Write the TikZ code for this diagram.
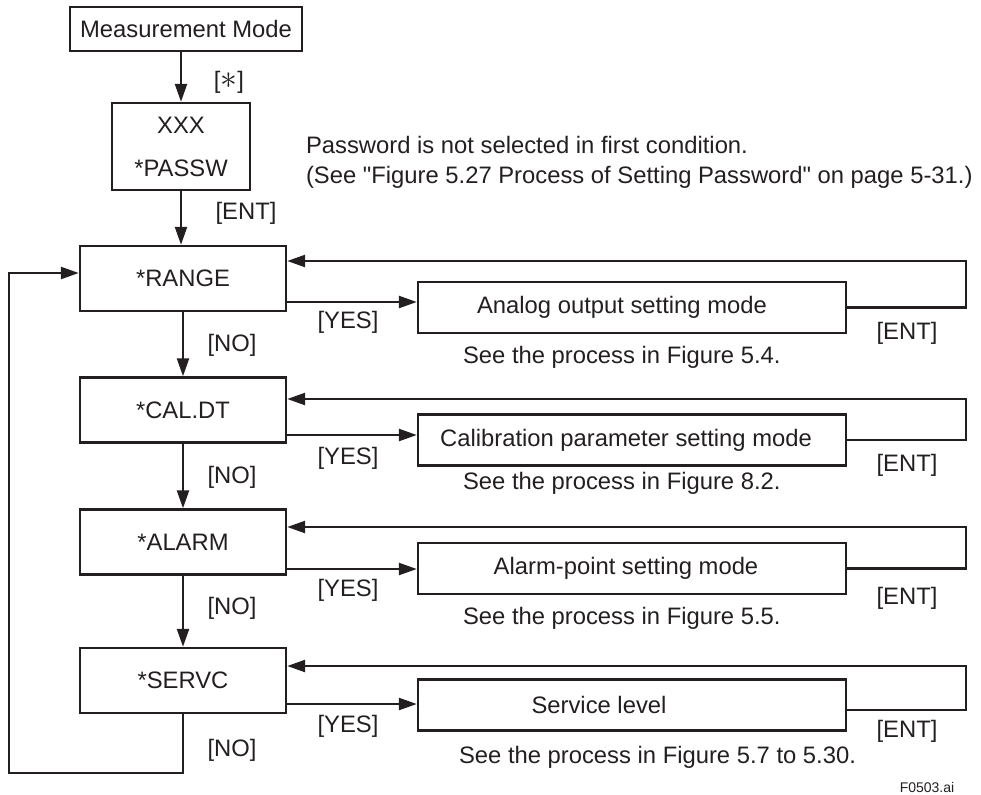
\documentclass[tikz,border=0pt]{standalone}
\usepackage{fontspec}
\setmainfont{Liberation Sans}
\usetikzlibrary{arrows.meta, positioning, calc}
\definecolor{ink}{HTML}{231F20}

\begin{document}
\begin{tikzpicture}[x=0.5pt, y=-0.5pt, font={\fontsize{11.9}{15}\selectfont}, text=ink,
  mainbox/.style={draw=ink, line width=1.2pt, minimum width=103pt, minimum height=32.5pt},
  subbox/.style={draw=ink, line width=1.2pt, minimum width=214pt, minimum height=25.5pt},
  arrow/.style={draw=ink, line width=1.2pt, -{Triangle[length=9pt, width=6pt]}},
  wire/.style={draw=ink, line width=1.2pt}]

\useasboundingbox (0,0) rectangle (981,794);

\node[draw=ink, line width=1.2pt, minimum width=116pt, minimum height=22pt] (meas) at (186,29) {Measurement Mode};
\node[draw=ink, line width=1.2pt, minimum width=69pt, minimum height=43.5pt, align=center] (passw) at (181,146.5) {XXX\\[6.5pt]*PASSW};
\node[anchor=west, align=left] (note) at (299,162) {Password is not selected in first condition.\\(See \textquotedbl Figure 5.27 Process of Setting Password\textquotedbl\ on page 5-31.)};

\node[mainbox] (range) at (183,278.5) {*RANGE};
\node[mainbox] (caldt) at (183,410) {*CAL.DT};
\node[mainbox] (alarm) at (183,542) {*ALARM};
\node[mainbox] (servc) at (183,680.5) {*SERVC};

\node[subbox] (analog) at (632,307.5) {Analog output setting mode\kern10pt};
\node[subbox] (calib) at (632,440) {Calibration parameter setting mode\kern6pt};
\node[subbox] (alarmpt) at (632,568.5) {Alarm-point setting mode\kern6pt};
\node[subbox] (service) at (632,705) {Service level\kern33pt};

\node[anchor=west] (see1) at (456,357) {See the process in Figure 5.4.};
\node[anchor=west] (see2) at (456,483) {See the process in Figure 8.2.};
\node[anchor=west] (see3) at (456,618) {See the process in Figure 5.5.};
\node[anchor=west] (see4) at (452,757) {See the process in Figure 5.7 to 5.30.};

\node (star) at (229,82) {[\scalebox{1.4}{$\ast$}]};
\node (ent0) at (246,213) {[ENT]};

\node (no1) at (232,345) {[NO]};
\node (no2) at (232,477) {[NO]};
\node (no3) at (232,608) {[NO]};
\node (no4) at (232,750) {[NO]};

\node (yes1) at (348,322) {[YES]};
\node (yes2) at (348,458) {[YES]};
\node (yes3) at (348,590) {[YES]};
\node (yes4) at (348,726) {[YES]};

\node (ent1) at (907,333) {[ENT]};
\node (ent2) at (907,465) {[ENT]};
\node (ent3) at (907,598) {[ENT]};
\node (ent4) at (907,731) {[ENT]};

\node[font={\fontsize{7}{8}\selectfont}] (fig) at (927,787) {F0503.ai};

\draw[arrow] (meas.south -| passw.north) -- (passw.north);
\draw[arrow] (passw.south) -- (passw.south |- range.north);
\draw[arrow] (range.south) -- (caldt.north);
\draw[arrow] (caldt.south) -- (alarm.north);
\draw[arrow] (alarm.south) -- (servc.north);
\draw[arrow] (servc.south) -- ++(0,-29.5pt) -- ++(-87pt,0) |- ([yshift=2.75pt]range.west);

\draw[arrow] ([yshift=-11.75pt]range.east) -- ([yshift=-11.75pt]range.east -| analog.west);
\draw[arrow] ([yshift=-12.5pt]caldt.east) -- ([yshift=-12.5pt]caldt.east -| calib.west);
\draw[arrow] ([yshift=-13.5pt]alarm.east) -- ([yshift=-13.5pt]alarm.east -| alarmpt.west);
\draw[arrow] ([yshift=-11.75pt]servc.east) -- ([yshift=-11.75pt]servc.east -| service.west);

\draw[arrow] (analog.east) -- ++(59.5pt,0) |- ([yshift=8.75pt]range.east);
\draw[arrow] (calib.east) -- ++(59.5pt,0) |- ([yshift=5.5pt]caldt.east);
\draw[arrow] (alarmpt.east) -- ++(59.5pt,0) |- ([yshift=7.5pt]alarm.east);
\draw[arrow] ([yshift=-2.5pt]service.east) -- ++(59.5pt,0) |- ([yshift=7.25pt]servc.east);

\end{tikzpicture}
\end{document}
